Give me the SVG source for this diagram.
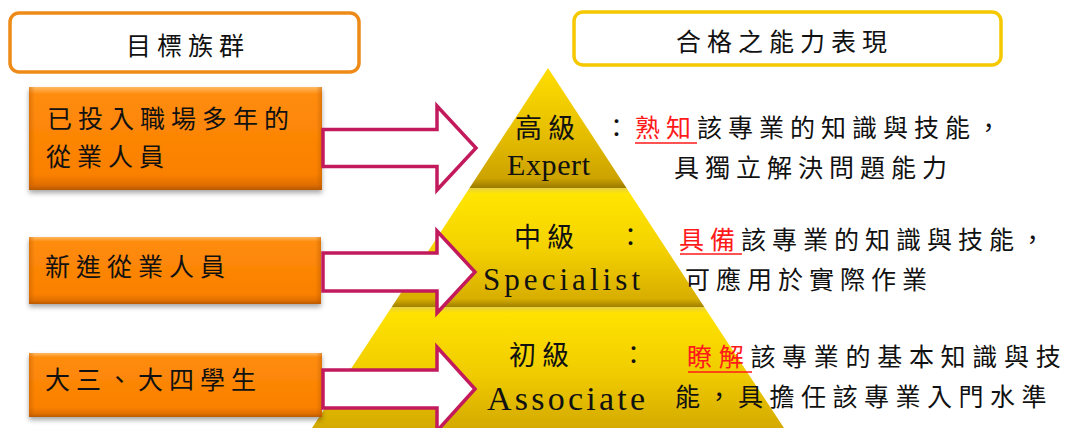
<svg xmlns="http://www.w3.org/2000/svg" width="1072" height="428" viewBox="0 0 1072 428">
  <defs>
    <linearGradient id="orangeG" x1="0" y1="0" x2="0" y2="1">
      <stop offset="0" stop-color="#FFB860"/>
      <stop offset="0.07" stop-color="#FF8C0C"/>
      <stop offset="0.85" stop-color="#FA8000"/>
      <stop offset="0.95" stop-color="#E06E00"/>
      <stop offset="1" stop-color="#B85800"/>
    </linearGradient>
    <linearGradient id="orangeEdge" x1="0" y1="0" x2="1" y2="0">
      <stop offset="0" stop-color="#B85800" stop-opacity="0.45"/>
      <stop offset="0.02" stop-color="#B85800" stop-opacity="0"/>
      <stop offset="0.98" stop-color="#B85800" stop-opacity="0"/>
      <stop offset="1" stop-color="#B85800" stop-opacity="0.45"/>
    </linearGradient>
    <linearGradient id="tierTop" x1="0" y1="0" x2="0" y2="1">
      <stop offset="0" stop-color="#FFDE00"/>
      <stop offset="0.55" stop-color="#E6BE00"/>
      <stop offset="0.92" stop-color="#CCA200"/>
      <stop offset="1" stop-color="#9A7A00"/>
    </linearGradient>
    <linearGradient id="tierMid" x1="0" y1="0" x2="0" y2="1">
      <stop offset="0" stop-color="#E8D040"/>
      <stop offset="0.05" stop-color="#FFE600"/>
      <stop offset="0.5" stop-color="#F4D200"/>
      <stop offset="0.93" stop-color="#D8AE00"/>
      <stop offset="1" stop-color="#A08000"/>
    </linearGradient>
    <linearGradient id="tierBot" x1="0" y1="0" x2="0" y2="1">
      <stop offset="0" stop-color="#E8D040"/>
      <stop offset="0.05" stop-color="#FFE200"/>
      <stop offset="0.55" stop-color="#F0CC00"/>
      <stop offset="1" stop-color="#D4AA00"/>
    </linearGradient>
    <filter id="shadow" x="-10%" y="-10%" width="120%" height="130%">
      <feDropShadow dx="0" dy="3" stdDeviation="2.5" flood-color="#000000" flood-opacity="0.35"/>
    </filter>
  </defs>
  <style>
    .cjk { font-family: "Noto Sans CJK TC", "Noto Sans CJK SC", sans-serif; font-size: 25px; letter-spacing: 6px; fill: #111111; }
    .lvl { font-family: "Noto Sans CJK TC", "Noto Sans CJK SC", sans-serif; font-size: 27px; letter-spacing: 6px; fill: #111111; }
    .lat { font-family: "Liberation Serif", serif; fill: #111111; }
    .red { fill: #FF1A1A; }
    .ul { stroke: #FF1A1A; stroke-width: 1.6; }
    .hdr { fill: #FFFFFF; stroke-width: 3.5; }
    .obox { fill: url(#orangeG); filter: url(#shadow); }
    .arrow { fill: #FFFFFF; stroke: #C21A5C; stroke-width: 3.5; stroke-linejoin: miter; }
  </style>

  <rect width="1072" height="428" fill="#FFFFFF"/>

  <!-- Header: target groups -->
  <g id="hdr-target">
    <rect class="hdr" x="10" y="13" width="349" height="59" rx="9" stroke="#EE8A18"/>
    <text class="cjk" x="126" y="55">目標族群</text>
  </g>

  <!-- Header: competency -->
  <g id="hdr-competency">
    <rect class="hdr" x="574" y="12" width="427" height="53" rx="9" stroke="#F5C800"/>
    <text class="cjk" x="676" y="51">合格之能力表現</text>
  </g>

  <!-- Pyramid -->
  <g id="pyramid">
    <polygon id="tier-bottom" points="391.7,307 704.3,307 784,428 312,428" fill="url(#tierBot)"/>
    <polygon id="tier-middle" points="469.5,188 626.5,188 704.3,307 391.7,307" fill="url(#tierMid)"/>
    <polygon id="tier-top" points="548,68 626.5,188 469.5,188" fill="url(#tierTop)"/>
  </g>

  <!-- Target group boxes -->
  <g id="group-senior">
    <rect class="obox" x="29" y="87" width="293" height="103"/>
    <rect x="29" y="87" width="293" height="103" fill="url(#orangeEdge)"/>
    <text class="cjk" x="47" y="128">已投入職場多年的</text>
    <text class="cjk" x="46" y="166">從業人員</text>
  </g>
  <g id="group-new">
    <rect class="obox" x="29" y="237" width="292" height="67"/>
    <rect x="29" y="237" width="292" height="67" fill="url(#orangeEdge)"/>
    <text class="cjk" x="45" y="276">新進從業人員</text>
  </g>
  <g id="group-student">
    <rect class="obox" x="29" y="353" width="293" height="64"/>
    <rect x="29" y="353" width="293" height="64" fill="url(#orangeEdge)"/>
    <text class="cjk" x="45" y="389">大三、大四學生</text>
  </g>

  <!-- Connectors -->
  <g id="connectors">
    <path class="arrow" d="M323,129.5 H437 V106 L476,148 L437,190 V166.5 H323 Z"/>
    <path class="arrow" d="M323,253 H437 V231 L475,272 L437,313 V291 H323 Z"/>
    <path class="arrow" d="M323,370 H437 V347 L475,389 L437,431 V408 H323 Z"/>
  </g>

  <!-- Level labels -->
  <g id="level-expert">
    <text class="lvl" x="515" y="138">高級</text>
    <text class="lat" x="507" y="175" font-size="30" textLength="83">Expert</text>
  </g>
  <g id="level-specialist">
    <text class="lvl" x="514" y="247">中級</text>
    <text class="cjk" x="618" y="246">：</text>
    <text class="lat" x="483" y="290" font-size="31" textLength="157">Specialist</text>
  </g>
  <g id="level-associate">
    <text class="lvl" x="509" y="365">初級</text>
    <text class="cjk" x="621" y="364">：</text>
    <text class="lat" x="487" y="410" font-size="34" textLength="158">Associate</text>
  </g>

  <!-- Descriptions -->
  <g id="desc-expert">
    <text class="cjk" x="604" y="137">：<tspan class="red">熟知</tspan>該專業的知識與技能，</text>
    <line class="ul" x1="635" y1="143" x2="697" y2="143"/>
    <text class="cjk" x="674" y="177">具獨立解決問題能力</text>
  </g>
  <g id="desc-specialist">
    <text class="cjk" x="679" y="249"><tspan class="red">具備</tspan>該專業的知識與技能，</text>
    <line class="ul" x1="680" y1="254" x2="742" y2="254"/>
    <text class="cjk" x="685" y="289">可應用於實際作業</text>
  </g>
  <g id="desc-associate">
    <text class="cjk" x="687" y="366" style="letter-spacing:6.7px"><tspan class="red">瞭解</tspan>該專業的基本知識與技</text>
    <line class="ul" x1="688" y1="372" x2="752" y2="372"/>
    <text class="cjk" x="675" y="406" style="letter-spacing:6.5px">能，具擔任該專業入門水準</text>
  </g>
</svg>
